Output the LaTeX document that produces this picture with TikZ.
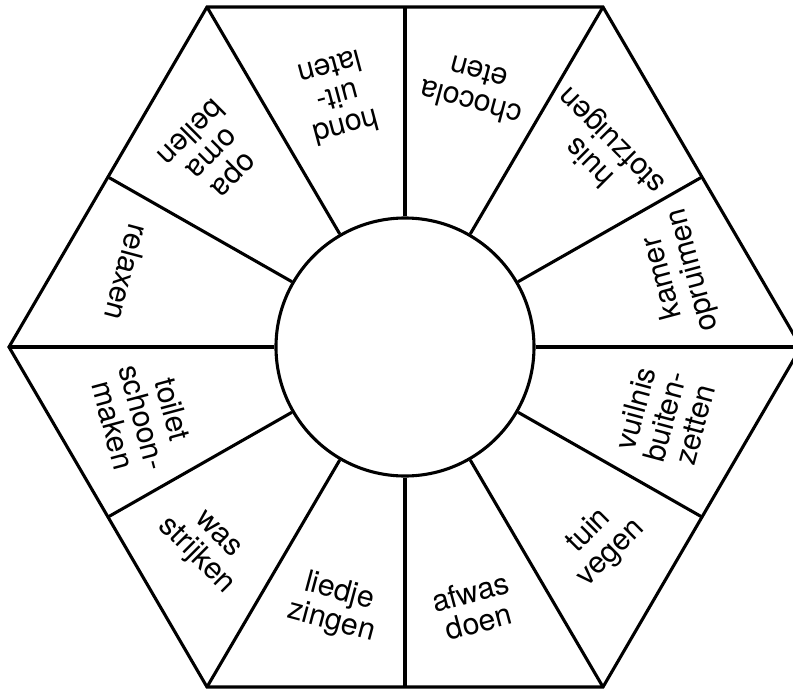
\documentclass[tikz,border=0pt]{standalone}
\usepackage{fontspec}
\setmainfont{TeX Gyre Heros}
\usetikzlibrary{calc}

\begin{document}
\begin{tikzpicture}[
  rim/.style={line width=2.2pt, line join=miter},
  spoke/.style={line width=2.2pt},
  hubc/.style={circle, draw, line width=2.2pt, minimum size=6.45cm, inner sep=0pt},
  task/.style={font=\fontsize{21.5}{22}\selectfont, align=center, inner sep=0pt},
]
  \useasboundingbox (-10.125,-8.575) rectangle (9.7,8.675);
  \clip (-10.125,-8.575) rectangle (9.7,8.675);

  %% Corners of the wheel
  \foreach \i in {0,...,5} {
    \coordinate (v\i) at (\i*60:9.9 and 9.815);
  }
  \foreach \i/\j in {0/1, 1/2, 2/3, 3/4, 4/5, 5/0} {
    \coordinate (m\i) at ($(v\i)!0.5!(v\j)$);
  }

  %% Rim and hub
  \draw[rim] (v0) -- (v1) -- (v2) -- (v3) -- (v4) -- (v5) -- cycle;
  \node[hubc] (hub) at (0,0) {};

  %% Spokes
  \foreach \i in {0,...,5} {
    \draw[spoke] (hub.\i*60) -- (v\i);
    \draw[spoke] (hub.\i*60+30) -- (m\i);
  }

  %% Chores
  \foreach \a/\r/\txt in {
      15/7.075/{kamer\\opruimen},
      45/6.95/{huis\\stofzuigen},
      75/6.7/{chocola\\eten},
      105/6.45/{hond\\uit-\\laten},
      135/6.85/{opa\\oma\\bellen},
      165/7.2/{relaxen},
      195/6.775/{toilet\\schoon-\\maken},
      225/7.05/{was\\strijken},
      255/6.725/{liedje\\zingen},
      285/6.725/{afwas\\doen},
      315/6.9/{tuin\\vegen},
      345/6.725/{vuilnis\\buiten-\\zetten}} {
    \node[task, rotate=\a+90] (t\a) at (\a:\r) {\txt};
  }
\end{tikzpicture}
\end{document}
